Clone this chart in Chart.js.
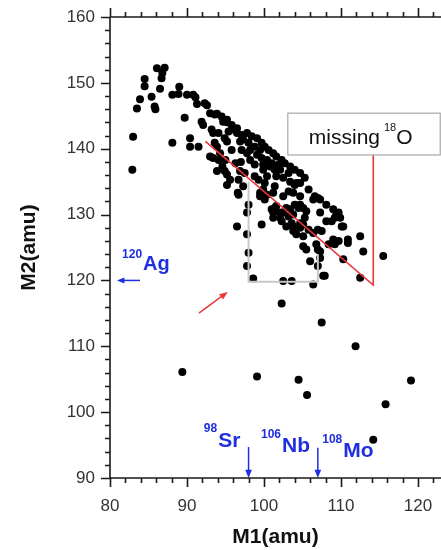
<!DOCTYPE html>
<html>
<head>
<meta charset="utf-8">
<script src="https://cdn.jsdelivr.net/npm/chart.js@4.4.0/dist/chart.umd.min.js"></script>
<style>
  html, body { margin: 0; padding: 0; background: #fff; }
  canvas { display: block; }
</style>
</head>
<body>
<canvas id="massChart" width="441" height="550"></canvas>
<script>
// fragment masses
const m1 = [
  82.9, 83.0, 83.5, 83.9, 84.5, 84.5, 85.4, 85.8, 85.9, 86.1,
  87.1, 86.8, 86.7, 86.5, 88.1, 88.9, 89.0, 89.7, 88.1, 90.0,
  90.4, 91.5, 90.4, 91.1, 91.3, 90.8, 91.9, 92.1, 92.6, 93.0,
  93.9, 94.5, 95.2, 95.2, 92.3, 93.6, 94.7, 93.2, 93.4, 94.1,
  95.8, 96.0, 95.4, 96.5, 94.9, 95.2, 93.6, 93.9, 93.0, 93.4,
  94.1, 93.9, 94.9, 95.2, 95.6, 95.2, 96.6, 96.5, 96.9, 97.3,
  98.0, 97.1, 97.8, 98.2, 98.8, 99.5, 99.1, 98.2, 98.8, 99.7,
  100.4, 99.9, 100.8, 101.4, 101.9, 96.9, 97.5, 96.7, 98.8, 99.3,
  101.6, 102.5, 103.2, 103.4, 104.0, 104.7, 96.5, 97.1, 97.8, 98.4,
  99.1, 99.7, 100.1, 100.6, 101.2, 101.6, 102.3, 102.7, 103.4, 104.0,
  104.7, 105.3, 102.1, 105.8, 106.6, 107.3, 108.1, 109.0, 106.4, 107.0,
  107.3, 109.7, 109.2, 108.8, 110.1, 107.0, 107.5, 112.5, 110.9, 110.9,
  109.7, 109.2, 112.9, 115.5, 110.3, 112.5, 107.7, 106.0, 107.3, 107.0,
  105.1, 105.5, 106.4, 103.6, 102.5, 99.7, 102.9, 103.6, 103.8, 104.2,
  105.1, 105.8, 106.4, 104.7, 105.3, 103.2, 103.8, 102.1, 102.5, 102.9,
  101.4, 101.2, 104.0, 104.5, 105.1, 105.5, 103.8, 104.7, 102.5, 103.2,
  101.2, 101.4, 104.2, 100.4, 100.1, 101.0, 101.6, 99.9, 99.5, 100.1,
  98.0, 97.8, 97.8, 98.0, 97.8, 98.6, 102.3, 107.5, 111.9, 109.0,
  107.3, 106.8, 107.0, 108.4, 109.4, 109.9, 108.1, 110.3, 99.5, 99.9,
  100.4, 101.0, 101.6, 102.1, 101.2, 102.3, 103.4, 104.7, 103.8, 104.7,
  105.1, 94.3, 95.0, 95.8, 96.3, 94.6, 97.0, 107.9, 97.3, 96.7,
  89.4, 99.1, 104.5, 105.6, 115.8, 119.1, 114.2
];
const m2 = [
  136.8, 141.8, 146.1, 147.5, 150.6, 149.5, 147.9, 146.4, 146.0, 152.2,
  152.3, 151.5, 150.7, 149.1, 148.2, 148.3, 149.4, 144.7, 140.9, 148.2,
  140.3, 140.3, 141.6, 147.8, 146.8, 148.2, 144.1, 143.6, 146.6, 145.4,
  145.3, 144.9, 144.4, 144.0, 146.9, 145.2, 144.1, 142.9, 142.4, 142.4,
  143.6, 142.9, 142.6, 143.1, 141.6, 141.1, 140.9, 140.3, 138.8, 138.6,
  138.3, 136.6, 136.6, 136.1, 135.3, 134.5, 133.3, 128.2, 141.1, 141.4,
  140.9, 139.8, 139.3, 139.8, 140.3, 139.8, 139.1, 138.3, 137.6, 138.6,
  138.3, 137.6, 137.3, 136.8, 137.6, 136.6, 136.3, 135.3, 135.8, 135.3,
  135.8, 135.6, 136.3, 135.0, 134.5, 134.8, 142.4, 142.1, 142.4, 141.9,
  141.6, 140.9, 140.3, 139.8, 139.3, 138.8, 138.3, 137.8, 137.3, 136.8,
  136.3, 135.6, 136.8, 133.8, 132.8, 132.3, 131.5, 130.8, 132.3, 132.5,
  130.3, 130.3, 129.5, 129.0, 128.2, 127.7, 127.5, 126.7, 126.2, 125.7,
  126.0, 125.5, 124.4, 123.7, 123.2, 120.4, 120.7, 122.9, 123.4, 122.2,
  125.2, 124.7, 119.4, 119.9, 119.9, 128.5, 128.2, 128.7, 127.5, 127.0,
  126.7, 127.7, 127.2, 128.7, 129.5, 129.7, 130.0, 129.5, 130.3, 131.0,
  131.0, 130.3, 131.5, 131.0, 131.0, 130.5, 133.3, 132.8, 132.8, 133.5,
  133.3, 134.3, 134.8, 135.8, 134.8, 137.8, 137.3, 136.8, 132.8, 132.3,
  131.5, 130.3, 127.0, 124.2, 122.2, 120.3, 116.5, 113.6, 110.0, 126.2,
  124.4, 125.5, 124.7, 125.5, 130.0, 129.5, 129.0, 128.2, 133.3, 133.8,
  133.0, 130.8, 131.3, 130.3, 129.5, 129.0, 130.8, 131.5, 128.2, 128.0,
  128.5, 139.3, 138.3, 139.8, 137.8, 137.3, 138.0, 120.7, 134.3, 133.0,
  106.1, 105.4, 104.9, 102.6, 101.2, 104.8, 95.8
];

const xTicks = [80, 90, 100, 110, 120];
const yTicks = [90, 100, 110, 120, 130, 140, 150, 160];

const FONT = "Arial, 'Liberation Sans', sans-serif";
const BLUE = "#1f2fe0";
const RED = "#e8383a";

// annotation anchors, in axis units
const grayBox = [[98, 135], [98, 119.8], [107, 119.8], [107, 124]];
const redPath = [[92.4, 141.1], [114.2, 119.3], [114.2, 139.05]];
const labelBox = { x0: 103.1, x1: 122.9, y0: 145.4, y1: 139.05 };

function arrow(ctx, x1, y1, x2, y2, color, head) {
  const ang = Math.atan2(y2 - y1, x2 - x1);
  ctx.strokeStyle = color;
  ctx.fillStyle = color;
  ctx.lineWidth = 1.5;
  ctx.beginPath();
  ctx.moveTo(x1, y1);
  ctx.lineTo(x2 - Math.cos(ang) * head * 0.8, y2 - Math.sin(ang) * head * 0.8);
  ctx.stroke();
  ctx.beginPath();
  ctx.moveTo(x2, y2);
  ctx.lineTo(x2 - head * Math.cos(ang - 0.38), y2 - head * Math.sin(ang - 0.38));
  ctx.lineTo(x2 - head * Math.cos(ang + 0.38), y2 - head * Math.sin(ang + 0.38));
  ctx.closePath();
  ctx.fill();
}

// superscript mass number + element symbol; x is where the symbol starts
function isotope(ctx, x, y, mass, sym, color, bigSize, smallSize, rise) {
  ctx.fillStyle = color;
  ctx.textBaseline = "alphabetic";
  ctx.font = "bold " + smallSize + "px " + FONT;
  ctx.textAlign = "right";
  ctx.fillText(mass, x - 1, y - rise);
  ctx.font = "bold " + bigSize + "px " + FONT;
  ctx.textAlign = "left";
  ctx.fillText(sym, x, y);
}

// keep the plot area exactly where the figure has it
function noEdgePadding(s) {
  s.paddingLeft = 0;
  s.paddingRight = 0;
  s.paddingTop = 0;
  s.paddingBottom = 0;
}

const framePlugin = {
  id: "frame",
  afterDatasetsDraw(chart) {
    const { ctx, chartArea: a, scales: { x, y } } = chart;
    const px = v => x.getPixelForValue(v);
    const py = v => y.getPixelForValue(v);
    ctx.save();

    // gray selection outline
    ctx.strokeStyle = "#c8c8c8";
    ctx.lineWidth = 2;
    ctx.beginPath();
    grayBox.forEach((p, i) => i ? ctx.lineTo(px(p[0]), py(p[1])) : ctx.moveTo(px(p[0]), py(p[1])));
    ctx.stroke();

    // red guide
    ctx.strokeStyle = RED;
    ctx.lineWidth = 1.6;
    ctx.beginPath();
    redPath.forEach((p, i) => i ? ctx.lineTo(px(p[0]), py(p[1])) : ctx.moveTo(px(p[0]), py(p[1])));
    ctx.stroke();

    // "missing 18O" box
    const bx = px(labelBox.x0), by = py(labelBox.y0);
    const bw = px(labelBox.x1) - bx, bh = py(labelBox.y1) - by;
    ctx.fillStyle = "#fff";
    ctx.fillRect(bx, by, bw, bh);
    ctx.strokeStyle = "#a8a8a8";
    ctx.lineWidth = 1.2;
    ctx.strokeRect(bx, by, bw, bh);
    ctx.fillStyle = "#111";
    ctx.textAlign = "left";
    ctx.textBaseline = "alphabetic";
    ctx.font = "21px " + FONT;
    let tx = bx + 21;
    const ty = by + 31;
    ctx.fillText("missing", tx, ty);
    tx += ctx.measureText("missing").width + 4;
    ctx.font = "11px " + FONT;
    ctx.fillText("18", tx, ty - 13);
    tx += ctx.measureText("18").width;
    ctx.font = "21px " + FONT;
    ctx.fillText("O", tx, ty);

    // red pointer arrow
    arrow(ctx, px(91.55), py(115.05), px(95.3), py(118.25), RED, 9);

    // blue markers
    arrow(ctx, px(83.9), py(120), px(80.9), py(120), BLUE, 8);
    arrow(ctx, px(98), py(94.7), px(98), py(90), BLUE, 9);
    arrow(ctx, px(107), py(94.6), px(107), py(90), BLUE, 9);
    isotope(ctx, px(84.3), py(121.6), "120", "Ag", BLUE, 20, 12, 12);
    isotope(ctx, px(94.05), py(94.7), "98", "Sr", BLUE, 21, 12, 15);
    isotope(ctx, px(102.35), py(93.95), "106", "Nb", BLUE, 21, 12, 14);
    isotope(ctx, px(110.3), py(93.2), "108", "Mo", BLUE, 21, 12, 14);

    // axes frame with outward ticks
    ctx.strokeStyle = "#1a1a1a";
    ctx.lineWidth = 1.6;
    ctx.beginPath();
    ctx.moveTo(a.left, a.top);
    ctx.lineTo(a.left, a.bottom);
    ctx.lineTo(a.right, a.bottom);
    ctx.moveTo(a.left, a.top);
    ctx.lineTo(a.right, a.top);
    for (let v = 80; v <= x.max; v += 2) {
      const len = v % 10 === 0 ? 9 : 5;
      const p = Math.round(px(v)) + 0.5;
      ctx.moveTo(p, a.bottom);
      ctx.lineTo(p, a.bottom + len);
      ctx.moveTo(p, a.top);
      ctx.lineTo(p, a.top - len);
    }
    for (let v = 90; v <= 160; v += 2) {
      const len = v % 10 === 0 ? 9 : 5;
      const p = Math.round(py(v)) + 0.5;
      ctx.moveTo(a.left, p);
      ctx.lineTo(a.left - len, p);
    }
    ctx.stroke();
    ctx.restore();
  }
};

const ctx = document.getElementById("massChart");

new Chart(ctx, {
  type: "scatter",
  data: {
    datasets: [{
      data: m1.map((v, i) => ({ x: v, y: m2[i] })),
      backgroundColor: "#000",
      borderWidth: 0,
      pointRadius: 4
    }]
  },
  options: {
    responsive: false,
    animation: false,
    layout: { autoPadding: false, padding: { top: 17, left: 0, right: 0, bottom: 0 } },
    plugins: {
      legend: { display: false },
      tooltip: { enabled: false }
    },
    scales: {
      x: {
        type: "linear",
        min: 80,
        max: 123,
        afterBuildTicks: s => { s.ticks = xTicks.map(v => ({ value: v })); },
        afterFit: s => { s.height = 72; noEdgePadding(s); },
        grid: { display: false, drawTicks: false },
        border: { display: false },
        ticks: { padding: 18, color: "#333", maxRotation: 0, font: { family: FONT, size: 17 } },
        title: {
          display: true,
          text: "M1(amu)",
          color: "#111",
          padding: { top: 0, bottom: 0 },
          font: { family: FONT, size: 21, weight: "bold" }
        }
      },
      y: {
        type: "linear",
        min: 90,
        max: 160,
        afterBuildTicks: s => { s.ticks = yTicks.map(v => ({ value: v })); },
        afterFit: s => { s.width = 110; noEdgePadding(s); },
        grid: { display: false, drawTicks: false },
        border: { display: false },
        ticks: { padding: 15, color: "#333", font: { family: FONT, size: 17 } },
        title: {
          display: true,
          text: "M2(amu)",
          color: "#111",
          padding: { top: 17, bottom: 0 },
          font: { family: FONT, size: 21, weight: "bold" }
        }
      }
    }
  },
  plugins: [framePlugin]
});
</script>
</body>
</html>
